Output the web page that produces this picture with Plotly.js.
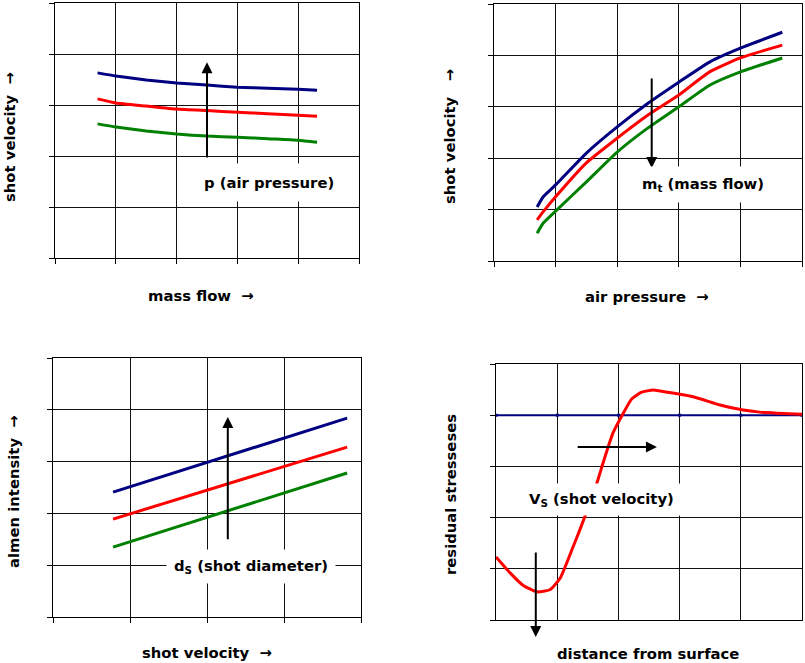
<!DOCTYPE html>
<html><head><meta charset="utf-8">
<script src="https://cdn.plot.ly/plotly-3.0.1.min.js"></script>
<style>html,body{margin:0;padding:0;background:#fff;}#chart{width:805px;height:663px;}</style>
</head><body><div id="chart"></div>
<script>
// Panel 1: shot velocity vs mass flow
const massFlow = [0.70, 1.0, 1.5, 2.0, 2.5, 3.0, 3.5, 4.0, 4.31];
const vHighP = [3.63, 3.57, 3.49, 3.43, 3.39, 3.35, 3.33, 3.31, 3.29];
const vMidP  = [3.12, 3.04, 2.98, 2.92, 2.89, 2.86, 2.83, 2.80, 2.78];
const vLowP  = [2.63, 2.57, 2.49, 2.43, 2.39, 2.37, 2.34, 2.31, 2.27];
// Panel 2: shot velocity vs air pressure
const airPressure = [0.70, 0.80, 1.0, 1.5, 2.0, 2.5, 3.0, 3.5, 4.0, 4.68];
const vLowM  = [1.05, 1.25, 1.48, 2.10, 2.61, 3.07, 3.48, 3.87, 4.14, 4.45];
const vMidM  = [0.80, 0.96, 1.25, 1.91, 2.39, 2.84, 3.23, 3.68, 3.95, 4.20];
const vHighM = [0.54, 0.74, 0.97, 1.54, 2.12, 2.59, 3.00, 3.42, 3.68, 3.95];
// Panel 3: almen intensity vs shot velocity
const shotVelocity = [0.78, 3.82];
const aLargeD = [2.41, 3.84];
const aMidD   = [1.89, 3.28];
const aSmallD = [1.35, 2.78];
// Panel 4: residual stresses vs distance from surface
const depth = [0, 0.23, 0.44, 0.67, 0.88, 1.05, 1.26, 1.37, 1.65, 1.75, 1.91, 2.08, 2.22, 2.38, 2.57, 2.79, 3.22, 3.66, 4.04, 4.31, 4.59, 5.0];
const stress = [1.23, 0.92, 0.68, 0.55, 0.59, 0.82, 1.43, 1.76, 2.68, 3.07, 3.65, 4.04, 4.32, 4.45, 4.49, 4.45, 4.36, 4.20, 4.10, 4.06, 4.04, 4.02];
const baseDepth = [0, 1, 2, 3, 4, 5];
const baseStress = [4, 4, 4, 4, 4, 4];

const W = 805, H = 663;
const px = v => v / W, py = v => 1 - v / H;
const BLUE = '#000080', RED = '#ff0000', GREEN = '#008000';
const FONT = {family: 'DejaVu Sans', size: 14.8, color: '#000', weight: 'bold'};

function line(x, y, c, xa, ya, extra) {
  return Object.assign({x: x, y: y, xaxis: xa, yaxis: ya, mode: 'lines', hoverinfo: 'skip',
    line: {color: c, width: 3, shape: 'spline', smoothing: 0.5}}, extra || {});
}
const traces = [
  line(massFlow, vHighP, BLUE, 'x', 'y'),
  line(massFlow, vMidP, RED, 'x', 'y'),
  line(massFlow, vLowP, GREEN, 'x', 'y'),
  line(airPressure, vLowM, BLUE, 'x2', 'y2'),
  line(airPressure, vMidM, RED, 'x2', 'y2'),
  line(airPressure, vHighM, GREEN, 'x2', 'y2'),
  line(shotVelocity, aLargeD, BLUE, 'x3', 'y3'),
  line(shotVelocity, aMidD, RED, 'x3', 'y3'),
  line(shotVelocity, aSmallD, GREEN, 'x3', 'y3'),
  line(baseDepth, baseStress, BLUE, 'x4', 'y4', {mode: 'lines+markers', line: {color: BLUE, width: 2}, marker: {symbol: 'square', size: 3, color: BLUE}}),
  line(depth, stress, RED, 'x4', 'y4'),
];

function axis(d0, d1, range, ticks, anchor) {
  return {domain: [d0, d1], range: range, dtick: 1, tick0: 0, showgrid: true, gridcolor: '#111', gridwidth: 1,
    showline: true, linecolor: '#000', linewidth: 1, mirror: true, ticks: ticks, ticklen: 5, tickcolor: '#000',
    showticklabels: false, zeroline: false, anchor: anchor, fixedrange: true};
}

function label(text, x, y, angle) {
  return {text: text, xref: 'paper', yref: 'paper', x: px(x), y: py(y), xanchor: 'center', yanchor: 'middle',
    showarrow: false, textangle: angle || 0, font: FONT};
}
function boxLabel(text, x, y, pad) {
  return Object.assign(label(text, x, y), {bgcolor: '#fff', borderpad: pad});
}
function arrow(xa, ya, hx, hy, tx, ty) {
  return {xref: xa, yref: ya, axref: xa, ayref: ya, x: hx, y: hy, ax: tx, ay: ty, text: '', showarrow: true,
    arrowhead: 2, arrowsize: 1.1, arrowwidth: 2, arrowcolor: '#000'};
}

const annotations = [
  label('shot velocity  →', 10, 137, -90),
  label('mass flow  →', 201, 295),
  label('shot velocity   →', 450, 136, -90),
  label('air pressure  →', 647, 296),
  label('almen intensity  →', 13, 492, -90),
  label('shot velocity  →', 207, 652),
  label('residual stresseses', 450, 494, -90),
  label('distance from surface', 648, 653),
  arrow('x', 'y', 2.5, 3.84, 2.5, 1.94),
  arrow('x2', 'y2', 2.56, 1.81, 2.56, 3.58),
  arrow('x3', 'y3', 2.27, 3.86, 2.27, 1.47),
  arrow('x4', 'y4', 2.63, 3.38, 1.31, 3.38),
  arrow('x4', 'y4', 0.65, -0.33, 0.65, 1.35),
  boxLabel('p (air pressure)', 269, 182, 10),
  boxLabel('m<sub>t</sub> (mass flow)', 703, 184, 8),
  boxLabel('d<sub>S</sub> (shot diameter)', 251, 566, 7),
  boxLabel('V<sub>S</sub> (shot velocity)', 601, 499, 6),
];

const layout = {
  width: W, height: H, margin: {l: 0, r: 0, t: 0, b: 0}, showlegend: false,
  paper_bgcolor: '#fff', plot_bgcolor: '#fff', font: FONT,
  xaxis:  axis(px(55), px(359), [0, 5], 'outside', 'y'),
  yaxis:  axis(py(258), py(3), [0, 5], 'outside', 'x'),
  xaxis2: axis(px(494), px(802), [0, 5], 'outside', 'y2'),
  yaxis2: axis(py(261), py(4), [0, 5], 'outside', 'x2'),
  xaxis3: axis(px(53), px(361), [0, 4], 'outside', 'y3'),
  yaxis3: axis(py(617), py(358), [0, 5], 'outside', 'x3'),
  xaxis4: axis(px(496), px(802), [0, 5], '', 'y4'),
  yaxis4: axis(py(620), py(364), [0, 5], 'outside', 'x4'),
  annotations: annotations,
};
Plotly.newPlot('chart', traces, layout, {displayModeBar: false, staticPlot: true});
</script></body></html>
